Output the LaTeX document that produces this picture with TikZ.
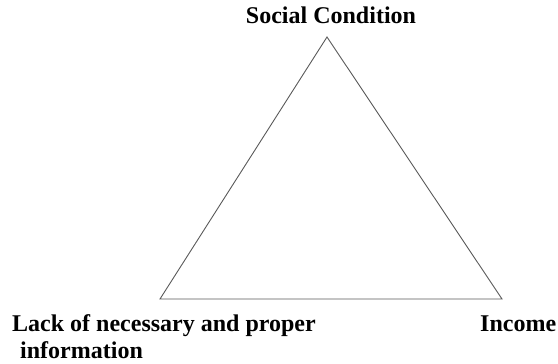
\documentclass[tikz,border=0pt]{standalone}
\usepackage{fontspec}
\setmainfont{Liberation Serif}
\begin{document}
\begin{tikzpicture}[x=1pt,y=1pt,
  lbl/.style={inner sep=0pt,font=\fontsize{24}{26}\selectfont\bfseries},
  edge/.style={draw=black!65,line width=0.9pt}]
\useasboundingbox (0,0) rectangle (558,364);
\coordinate (top) at (327,327);
\coordinate (left) at (160,65);
\coordinate (right) at (502,65);
\draw[edge] (top) -- (left) -- (right) -- cycle;
\node[lbl,anchor=base] (soc) at (331,340) {Social Condition};
\node[lbl,anchor=base west] (lack) at (12,32) {Lack of necessary and proper};
\node[lbl,anchor=base west] (info) at (20,5) {information};
\node[lbl,anchor=base west] (inc) at (480,32) {Income};
\end{tikzpicture}
\end{document}
